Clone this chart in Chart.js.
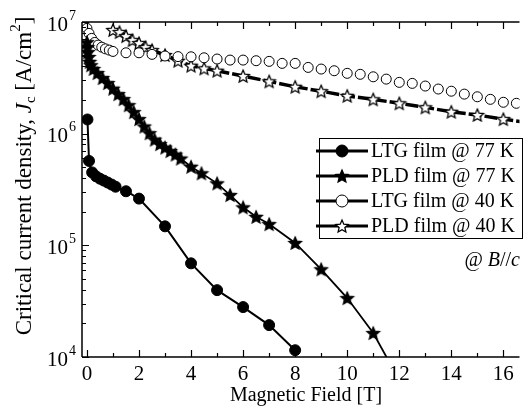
<!DOCTYPE html>
<html lang="en">
<head>
<meta charset="UTF-8">
<title>Critical current density vs magnetic field</title>
<script src="https://cdn.jsdelivr.net/npm/chart.js"></script>
<style>
  html, body { margin: 0; padding: 0; background: #fff; overflow: hidden; }
  #wrap { width: 527px; height: 407px; position: relative; }
</style>
</head>
<body>
<div id="wrap"><canvas id="jcChart"></canvas></div>
<script>
// B [T] and Jc [A/cm^2] for each sample
const ltg77Field = [0.02, 0.08, 0.2, 0.35, 0.5, 0.65, 0.8, 0.95, 1.1, 1.5, 2, 3, 4, 5, 6, 7, 8];
const ltg77Jc = [1.34e6, 5.7e5, 4.5e5, 4.15e5, 3.95e5, 3.8e5, 3.65e5, 3.5e5, 3.35e5, 3.05e5, 2.62e5, 1.48e5, 6.9e4, 3.97e4, 2.8e4, 1.93e4, 1.15e4];

const pld77Field = [0, 0.02, 0.04, 0.07, 0.1, 0.15, 0.25, 0.4, 0.6, 0.8, 1.0, 1.2, 1.4, 1.6, 1.8, 2.0, 2.2, 2.4, 2.6, 2.8, 3.0, 3.2, 3.4, 3.6, 4.0, 4.4, 5.0, 5.5, 6.0, 6.5, 7, 8, 9, 10, 11, 12];
const pld77Jc = [6.6e6, 5.96e6, 5.38e6, 4.86e6, 4.4e6, 4.1e6, 3.8e6, 3.49e6, 3.15e6, 2.84e6, 2.53e6, 2.26e6, 2.04e6, 1.80e6, 1.56e6, 1.35e6, 1.16e6, 1.01e6, 8.85e5, 8.07e5, 7.51e5, 6.99e5, 6.5e5, 5.99e5, 5.06e5, 4.42e5, 3.59e5, 2.82e5, 2.19e5, 1.8e5, 1.55e5, 1.05e5, 6.1e4, 3.37e4, 1.64e4, 6.2e3];

const ltg40Field = [0, 0.08, 0.18, 0.3, 0.43, 0.57, 0.71, 0.86, 1.0, 1.5, 2.0, 2.5, 3.0, 3.5, 4.0, 4.5, 5.0, 5.5, 6.0, 6.5, 7.0, 7.5, 8.0, 8.5, 9.0, 9.5, 10, 10.5, 11, 11.5, 12, 12.5, 13, 13.5, 14, 14.5, 15, 15.5, 16, 16.5];
const ltg40Jc = [8.77e6, 7.91e6, 7.13e6, 6.56e6, 6.21e6, 5.95e6, 5.75e6, 5.6e6, 5.45e6, 5.3e6, 5.3e6, 5.13e6, 4.96e6, 4.9e6, 4.88e6, 4.78e6, 4.66e6, 4.56e6, 4.56e6, 4.5e6, 4.44e6, 4.26e6, 4.26e6, 3.92e6, 3.79e6, 3.66e6, 3.47e6, 3.4e6, 3.23e6, 3.08e6, 2.88e6, 2.82e6, 2.67e6, 2.51e6, 2.4e6, 2.26e6, 2.14e6, 2.03e6, 1.91e6, 1.87e6];

const pld40Field = [1.0, 1.25, 1.5, 1.75, 2.0, 2.25, 2.5, 3.0, 3.5, 4.0, 4.5, 5.0, 6, 7, 8, 9, 10, 11, 12, 13, 14, 15, 16, 17];
const pld40Jc = [8.47e6, 8.13e6, 7.48e6, 6.89e6, 6.47e6, 5.96e6, 5.6e6, 5.06e6, 4.5e6, 4.06e6, 3.84e6, 3.66e6, 3.28e6, 2.94e6, 2.63e6, 2.4e6, 2.18e6, 2.03e6, 1.87e6, 1.72e6, 1.57e6, 1.47e6, 1.35e6, 1.25e6];

const seriesNames = ['LTG film @ 77 K', 'PLD film @ 77 K', 'LTG film @ 40 K', 'PLD film @ 40 K'];
const xTickValues = [0, 2, 4, 6, 8, 10, 12, 14, 16];
const yTickExponents = [4, 5, 6, 7];

const FONT = '"Liberation Serif", "Times New Roman", serif';

function makeStar(r, fill) {
  const s = 2 * Math.ceil(r + 1.5);
  const c = document.createElement('canvas');
  c.width = s; c.height = s;
  const g = c.getContext('2d');
  g.translate(s / 2, s / 2 + r * 0.1);
  g.beginPath();
  for (let i = 0; i < 10; i++) {
    const rad = i % 2 ? r * 0.46 : r;
    const a = -Math.PI / 2 + i * Math.PI / 5;
    g.lineTo(rad * Math.cos(a), rad * Math.sin(a));
  }
  g.closePath();
  g.fillStyle = fill;
  g.fill();
  g.lineWidth = 1.3;
  g.lineJoin = 'miter';
  g.strokeStyle = '#000';
  g.stroke();
  return c;
}
const starFilled = makeStar(6.6, '#000');
const starOpen = makeStar(6.6, '#fff');

const toPoints = (xs, ys) => xs.map((x, i) => ({ x: x, y: ys[i] }));

// axes, ticks, titles, legend and note
const framePlugin = {
  id: 'frame',
  afterDraw(chart) {
    const ctx = chart.ctx;
    const a = chart.chartArea;
    const xs = chart.scales.x, ys = chart.scales.y;
    ctx.save();
    ctx.strokeStyle = '#000';
    ctx.fillStyle = '#000';
    ctx.lineWidth = 1.5;
    ctx.beginPath();
    ctx.moveTo(a.left, a.top); ctx.lineTo(a.right, a.top);
    ctx.moveTo(a.left, a.top); ctx.lineTo(a.left, a.bottom);
    ctx.moveTo(a.left, a.bottom); ctx.lineTo(a.right, a.bottom);
    ctx.stroke();

    // x ticks (inward, bottom and top)
    ctx.lineWidth = 1.2;
    ctx.beginPath();
    for (let v = 0; v <= 16; v++) {
      const px = Math.round(xs.getPixelForValue(v)) + 0.5;
      const len = v % 2 === 0 ? 7 : 4;
      ctx.moveTo(px, a.bottom); ctx.lineTo(px, a.bottom - len);
      ctx.moveTo(px, a.top); ctx.lineTo(px, a.top + len);
    }
    // y ticks (inward, left)
    for (let e = 4; e <= 7; e++) {
      for (let m = 1; m <= 9; m++) {
        const v = m * Math.pow(10, e);
        if (v > 1e7) break;
        const py = Math.round(ys.getPixelForValue(v)) + 0.5;
        const len = m === 1 ? 7 : 4;
        ctx.moveTo(a.left, py); ctx.lineTo(a.left + len, py);
      }
    }
    ctx.stroke();

    // x tick labels
    ctx.font = '21px ' + FONT;
    ctx.textAlign = 'center';
    ctx.textBaseline = 'middle';
    xTickValues.forEach(v => {
      ctx.fillText(String(v), xs.getPixelForValue(v), a.bottom + 17);
    });

    // y tick labels 10^n
    yTickExponents.forEach(e => {
      const py = ys.getPixelForValue(Math.pow(10, e));
      ctx.font = '21px ' + FONT;
      ctx.textAlign = 'left';
      ctx.textBaseline = 'middle';
      const w = ctx.measureText('10').width;
      ctx.fillText('10', 47, py + 3);
      ctx.font = '14px ' + FONT;
      ctx.fillText(String(e), 47 + w + 1, py - 6);
    });

    // x title
    ctx.font = '20px ' + FONT;
    ctx.textAlign = 'center';
    ctx.textBaseline = 'middle';
    ctx.fillText('Magnetic Field [T]', 306, 396);

    // y title
    const parts = [
      { t: 'Critical current density, ', f: '23px ' + FONT, dy: 0 },
      { t: 'J', f: 'italic 23px ' + FONT, dy: 0 },
      { t: 'c', f: '15px ' + FONT, dy: 6 },
      { t: ' [A/cm', f: '23px ' + FONT, dy: 0 },
      { t: '2', f: '15px ' + FONT, dy: -9 },
      { t: ']', f: '23px ' + FONT, dy: 0 }
    ];
    let total = 0;
    parts.forEach(p => { ctx.font = p.f; p.w = ctx.measureText(p.t).width; total += p.w; });
    ctx.save();
    ctx.translate(25, 176);
    ctx.rotate(-Math.PI / 2);
    ctx.textAlign = 'left';
    let cx = -total / 2;
    parts.forEach(p => { ctx.font = p.f; ctx.fillText(p.t, cx, p.dy); cx += p.w; });
    ctx.restore();

    // legend
    const bx = 319.5, by = 138.5, bw = 203, bh = 100;
    ctx.fillStyle = '#fff';
    ctx.fillRect(bx, by, bw, bh);
    ctx.lineWidth = 1;
    ctx.strokeStyle = '#000';
    ctx.strokeRect(bx, by, bw, bh);
    ctx.fillStyle = '#000';
    seriesNames.forEach((name, i) => {
      const ry = 151 + i * 25;
      ctx.lineWidth = 3;
      ctx.beginPath();
      ctx.moveTo(316, ry); ctx.lineTo(368, ry);
      ctx.stroke();
      const mx = 342;
      if (i === 0 || i === 2) {
        ctx.beginPath();
        ctx.arc(mx, ry, 6, 0, Math.PI * 2);
        ctx.fillStyle = i === 0 ? '#000' : '#fff';
        ctx.fill();
        ctx.lineWidth = 1;
        ctx.stroke();
      } else {
        const img = i === 1 ? starFilled : starOpen;
        ctx.drawImage(img, mx - img.width / 2, ry - img.height / 2);
      }
      ctx.fillStyle = '#000';
      ctx.font = '20px ' + FONT;
      ctx.textAlign = 'left';
      ctx.textBaseline = 'middle';
      ctx.fillText(name, 371, ry + 1);
    });

    // field orientation note
    const note = [
      { t: '@ ', f: '20px ' + FONT },
      { t: 'B', f: 'italic 20px ' + FONT },
      { t: '//', f: '20px ' + FONT },
      { t: 'c', f: 'italic 20px ' + FONT }
    ];
    let nw = 0;
    note.forEach(p => { ctx.font = p.f; p.w = ctx.measureText(p.t).width; nw += p.w; });
    let nx = 520 - nw;
    ctx.textAlign = 'left';
    note.forEach(p => { ctx.font = p.f; ctx.fillText(p.t, nx, 261); nx += p.w; });
    ctx.restore();
  }
};

new Chart(document.getElementById('jcChart'), {
  type: 'scatter',
  data: {
    datasets: [
      {
        label: seriesNames[0],
        data: toPoints(ltg77Field, ltg77Jc),
        showLine: true,
        borderColor: '#000',
        borderWidth: 2,
        pointStyle: 'circle',
        pointRadius: 5.5,
        pointBackgroundColor: '#000',
        pointBorderColor: '#000',
        pointBorderWidth: 1
      },
      {
        label: seriesNames[1],
        data: toPoints(pld77Field, pld77Jc),
        showLine: true,
        borderColor: '#000',
        borderWidth: 1.8,
        pointStyle: starFilled
      },
      {
        label: seriesNames[2],
        data: toPoints(ltg40Field, ltg40Jc),
        showLine: false,
        pointStyle: 'circle',
        pointRadius: 5,
        pointBackgroundColor: '#fff',
        pointBorderColor: '#000',
        pointBorderWidth: 1
      },
      {
        label: seriesNames[3],
        data: toPoints(pld40Field, pld40Jc),
        showLine: true,
        borderColor: '#000',
        borderWidth: 3.5,
        borderDash: [13, 3],
        pointStyle: starOpen
      }
    ]
  },
  options: {
    responsive: true,
    maintainAspectRatio: false,
    animation: false,
    devicePixelRatio: 1,
    layout: { padding: { top: 22, left: 0, right: 0, bottom: 0 } },
    elements: { line: { tension: 0 } },
    plugins: { legend: { display: false }, tooltip: { enabled: false } },
    scales: {
      x: {
        type: 'linear',
        min: -0.19,
        max: 16.62,
        grid: { display: false },
        border: { display: false },
        ticks: { display: false },
        afterFit: s => { s.height = 50; }
      },
      y: {
        type: 'logarithmic',
        min: 1e4,
        max: 1e7,
        grid: { display: false },
        border: { display: false },
        ticks: { display: false },
        afterFit: s => { s.width = 82; }
      }
    }
  },
  plugins: [framePlugin]
});
</script>
</body>
</html>
